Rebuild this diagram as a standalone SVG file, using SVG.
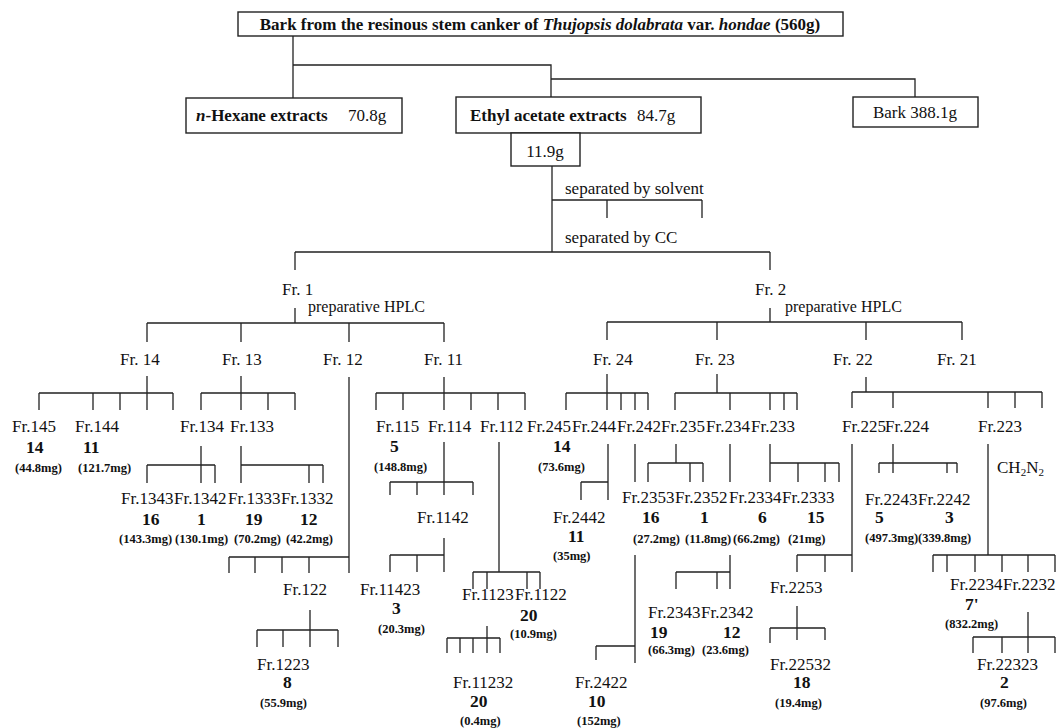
<svg xmlns="http://www.w3.org/2000/svg" width="1056" height="728" viewBox="0 0 1056 728">
<style>
text{font-family:"Liberation Serif","Times New Roman",serif;font-size:17px;fill:#111}
.b{font-weight:bold}
.i{font-style:italic}
.num{font-weight:bold;font-size:17.5px}
.mg{font-weight:bold;font-size:12.5px}
.hp{font-size:16px}
.box{fill:#fff;stroke:#222;stroke-width:1.4}
#connectors path{fill:none;stroke:#222;stroke-width:1.3}
</style>
<rect width="1056" height="728" fill="#fff"/>
<g id="connectors">
<path d="M293 36V98M293 65H551V97M551 79H915V97"/>
<path d="M552 166V252M552 200H702M607 200V218M702 200V218"/>
<path d="M295 252H770M295 252V270M770 252V270"/>
<path d="M295 308V323M147 323H444M147 323V342M241 323V342M349 323V342M444 323V342"/>
<path d="M770 308V322M607 322H962M607 322V340M717 322V340M866 322V340M962 322V340"/>
<path d="M147 376V410M39 393H173M39 393V410M93 393V410M120 393V410M173 393V410"/>
<path d="M241 376V410M201 393H295M201 393V410M268 393V410M295 393V410"/>
<path d="M349 377V573"/>
<path d="M444 377V410M376 393H525M376 393V410M403 393V410M471 393V410M498 393V410M525 393V410"/>
<path d="M607 374V410M566 393H648M566 393V410M621 393V410M635 393V410M648 393V410"/>
<path d="M717 374V393M675 393H797M675 393V410M730 393V410M770 393V410M784 393V410M797 393V410"/>
<path d="M866 377V392M852 392H1042M852 392V408M893 392V408M988 392V408M1015 392V408M1042 392V408"/>
<path d="M201 446V483M147 465H215M147 465V483M215 465V483"/>
<path d="M241 446V483M241 465H323M309 465V483M323 465V483"/>
<path d="M444 442V495M390 482H473M390 482V495M417 482V495M473 482V495"/>
<path d="M499 442V572M473 572H540M473 572V589M487 572V589M527 572V589M540 572V589"/>
<path d="M608 444V500M581 482H608M581 482V500"/>
<path d="M635 444V482M635 555V663M596 646H635M596 646V660"/>
<path d="M676 444V463M648 463H703M648 463V482M690 463V482M703 463V482"/>
<path d="M730 444V482M730 555V589M676 572H730M676 572V589M717 572V589"/>
<path d="M770 444V482M770 463H839M798 463V482M825 463V482M839 463V482"/>
<path d="M852 444V572M797 555H852M797 555V572M825 555V572"/>
<path d="M893 444V473M879 463H957M879 463V473M947 463V473M957 463V473"/>
<path d="M988 444V555M933 555H1055M933 555V572M947 555V572M975 555V572M1002 555V572M1028 555V572M1055 555V572"/>
<path d="M229 557H349M229 557V573M255 557V573M282 557V573M309 557V573"/>
<path d="M444 538V572M390 555H444M390 555V572M417 555V572"/>
<path d="M310 610V647M257 630H338M257 630V647M283 630V647M338 630V647"/>
<path d="M487 626V653M447 638H500M447 638V653M460 638V653M473 638V653M500 638V653"/>
<path d="M797 606V640M770 628H825M770 628V643M825 628V640"/>
<path d="M1028 612V653M973 637H1055M973 637V653M1002 637V653M1055 637V653"/>
</g>
<g id="n-top"><rect class="box" x="238" y="12" width="605" height="24"/><text class="b" x="540" y="30" text-anchor="middle" font-size="17.5">Bark from the resinous stem canker of <tspan class="i">Thujopsis dolabrata</tspan> var. <tspan class="i">hondae</tspan> (560g)</text></g>
<g id="n-hexane"><rect class="box" x="186" y="98" width="216" height="35"/><text x="196" y="121"><tspan class="b"><tspan class="i">n</tspan>-Hexane extracts</tspan></text><text x="348" y="121">70.8g</text></g>
<g id="n-ethyl"><rect class="box" x="456" y="97" width="245" height="36"/><text class="b" x="470" y="121">Ethyl acetate extracts</text><text x="637" y="121">84.7g</text></g>
<g id="n-bark"><rect class="box" x="853" y="97" width="125" height="30"/><text x="915" y="118" text-anchor="middle">Bark 388.1g</text></g>
<g id="n-11g"><rect class="box" x="511" y="133" width="69" height="33"/><text x="545" y="157" text-anchor="middle">11.9g</text></g>
<g id="l-solvent"><text x="565" y="194">separated by solvent</text></g>
<g id="l-cc"><text x="565" y="243">separated by CC</text></g>
<g id="n-fr1"><text x="282" y="295">Fr. 1</text><text class="hp" x="308" y="312">preparative HPLC</text></g>
<g id="n-fr2"><text x="755" y="295">Fr. 2</text><text class="hp" x="785" y="312">preparative HPLC</text></g>
<g id="n-fr14"><text x="120" y="365">Fr. 14</text></g>
<g id="n-fr13"><text x="222" y="365">Fr. 13</text></g>
<g id="n-fr12"><text x="323" y="365">Fr. 12</text></g>
<g id="n-fr11"><text x="424" y="365">Fr. 11</text></g>
<g id="n-fr24"><text x="593" y="365">Fr. 24</text></g>
<g id="n-fr23"><text x="695" y="365">Fr. 23</text></g>
<g id="n-fr22"><text x="833" y="365">Fr. 22</text></g>
<g id="n-fr21"><text x="937" y="365">Fr. 21</text></g>
<g id="n-fr145"><text x="12" y="432">Fr.145</text><text class="num" x="26" y="453">14</text><text class="mg" x="15" y="472">(44.8mg)</text></g>
<g id="n-fr144"><text x="75" y="432">Fr.144</text><text class="num" x="83" y="453">11</text><text class="mg" x="78" y="472">(121.7mg)</text></g>
<g id="n-fr134"><text x="180" y="432">Fr.134</text></g>
<g id="n-fr133"><text x="230" y="432">Fr.133</text></g>
<g id="n-fr115"><text x="376" y="432">Fr.115</text><text class="num" x="390" y="452">5</text><text class="mg" x="374" y="471">(148.8mg)</text></g>
<g id="n-fr114"><text x="428" y="432">Fr.114</text></g>
<g id="n-fr112"><text x="480" y="432">Fr.112</text></g>
<g id="n-fr245"><text x="527" y="432">Fr.245</text><text class="num" x="553" y="452">14</text><text class="mg" x="538" y="471">(73.6mg)</text></g>
<g id="n-fr244"><text x="572" y="432">Fr.244</text></g>
<g id="n-fr242"><text x="617" y="432">Fr.242</text></g>
<g id="n-fr235"><text x="661" y="432">Fr.235</text></g>
<g id="n-fr234"><text x="706" y="432">Fr.234</text></g>
<g id="n-fr233"><text x="751" y="432">Fr.233</text></g>
<g id="n-fr225"><text x="842" y="432">Fr.225</text></g>
<g id="n-fr224"><text x="885" y="432">Fr.224</text></g>
<g id="n-fr223"><text x="978" y="432">Fr.223</text><text x="997" y="473">CH<tspan font-size="11" dy="3">2</tspan><tspan dy="-3">N</tspan><tspan font-size="11" dy="3">2</tspan></text></g>
<g id="n-fr1343"><text x="121" y="504">Fr.1343</text><text class="num" x="142" y="525">16</text><text class="mg" x="119" y="543">(143.3mg)</text></g>
<g id="n-fr1342"><text x="174" y="504">Fr.1342</text><text class="num" x="197" y="525">1</text><text class="mg" x="175" y="543">(130.1mg)</text></g>
<g id="n-fr1333"><text x="228" y="504">Fr.1333</text><text class="num" x="245" y="525">19</text><text class="mg" x="234" y="543">(70.2mg)</text></g>
<g id="n-fr1332"><text x="281" y="504">Fr.1332</text><text class="num" x="300" y="525">12</text><text class="mg" x="286" y="543">(42.2mg)</text></g>
<g id="n-fr1142"><text x="417" y="523">Fr.1142</text></g>
<g id="n-fr2442"><text x="553" y="523">Fr.2442</text><text class="num" x="568" y="542">11</text><text class="mg" x="553" y="560">(35mg)</text></g>
<g id="n-fr2353"><text x="622" y="503">Fr.2353</text><text class="num" x="642" y="523">16</text><text class="mg" x="633" y="543">(27.2mg)</text></g>
<g id="n-fr2352"><text x="675" y="503">Fr.2352</text><text class="num" x="700" y="523">1</text><text class="mg" x="685" y="543">(11.8mg)</text></g>
<g id="n-fr2334"><text x="729" y="503">Fr.2334</text><text class="num" x="758" y="523">6</text><text class="mg" x="733" y="543">(66.2mg)</text></g>
<g id="n-fr2333"><text x="782" y="503">Fr.2333</text><text class="num" x="807" y="523">15</text><text class="mg" x="788" y="543">(21mg)</text></g>
<g id="n-fr2243"><text x="865" y="505">Fr.2243</text><text class="num" x="875" y="523">5</text><text class="mg" x="865" y="542">(497.3mg)</text></g>
<g id="n-fr2242"><text x="918" y="505">Fr.2242</text><text class="num" x="945" y="523">3</text><text class="mg" x="918" y="542">(339.8mg)</text></g>
<g id="n-fr122"><text x="283" y="595">Fr.122</text></g>
<g id="n-fr11423"><text x="360" y="595">Fr.11423</text><text class="num" x="392" y="614">3</text><text class="mg" x="378" y="633">(20.3mg)</text></g>
<g id="n-fr1123"><text x="462" y="600">Fr.1123</text></g>
<g id="n-fr1122"><text x="515" y="600">Fr.1122</text><text class="num" x="520" y="621">20</text><text class="mg" x="510" y="638">(10.9mg)</text></g>
<g id="n-fr2343"><text x="648" y="618">Fr.2343</text><text class="num" x="650" y="638">19</text><text class="mg" x="648" y="654">(66.3mg)</text></g>
<g id="n-fr2342"><text x="701" y="618">Fr.2342</text><text class="num" x="723" y="638">12</text><text class="mg" x="702" y="654">(23.6mg)</text></g>
<g id="n-fr2253"><text x="770" y="593">Fr.2253</text></g>
<g id="n-fr2234"><text x="950" y="590">Fr.2234</text><text class="num" x="965" y="610">7'</text><text class="mg" x="945" y="628">(832.2mg)</text></g>
<g id="n-fr2232"><text x="1003" y="590">Fr.2232</text></g>
<g id="n-fr1223"><text x="257" y="670">Fr.1223</text><text class="num" x="283" y="688">8</text><text class="mg" x="260" y="707">(55.9mg)</text></g>
<g id="n-fr11232"><text x="453" y="688">Fr.11232</text><text class="num" x="470" y="707">20</text><text class="mg" x="460" y="725">(0.4mg)</text></g>
<g id="n-fr2422"><text x="575" y="688">Fr.2422</text><text class="num" x="588" y="707">10</text><text class="mg" x="577" y="725">(152mg)</text></g>
<g id="n-fr22532"><text x="770" y="670">Fr.22532</text><text class="num" x="793" y="688">18</text><text class="mg" x="775" y="707">(19.4mg)</text></g>
<g id="n-fr22323"><text x="977" y="670">Fr.22323</text><text class="num" x="1000" y="688">2</text><text class="mg" x="980" y="707">(97.6mg)</text></g>
</svg>
